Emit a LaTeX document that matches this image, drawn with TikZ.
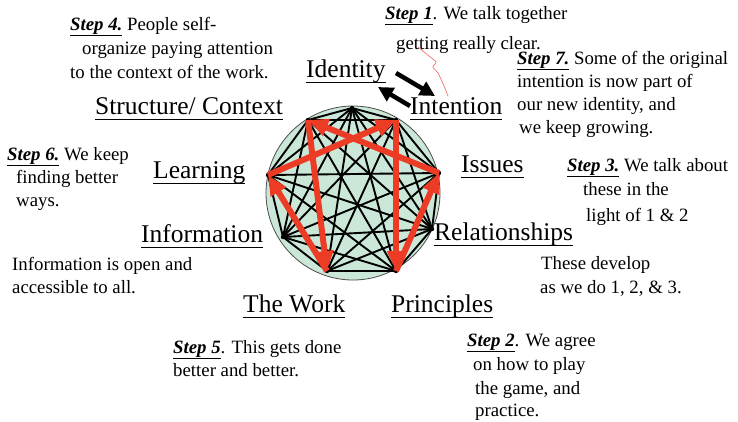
\documentclass[tikz,border=0pt]{standalone}
\usepackage{fontspec}
\setmainfont{Liberation Serif}
\usetikzlibrary{arrows.meta}
\definecolor{mint}{RGB}{202,231,216}
\definecolor{arrred}{RGB}{236,60,38}
\definecolor{thinred}{RGB}{240,120,105}
\newcommand\StepLbl[1]{\underline{\textbf{\textit{#1}}}}
\begin{document}
\begin{tikzpicture}[x=1pt,y=-1pt,
  lab/.style={anchor=base west,inner sep=0pt,font=\fontsize{25.5}{28}\selectfont},
  txt/.style={anchor=base west,inner sep=0pt,font=\fontsize{18.8}{21}\selectfont},
  edge/.style={line width=1.9pt,black},
  redarr/.style={line width=6pt,arrred,-{Triangle[length=20pt,width=17pt]}},
  blkarr/.style={line width=4.5pt,black,-{Triangle[length=15pt,width=15pt]}},
  uline/.style={line width=0.9pt,black}
]
\fill[white] (0,0) rectangle (738,421);
\useasboundingbox (0,0) rectangle (738,421);

% circle
\filldraw[fill=mint,draw=black!70,line width=0.8pt] (353,193) circle (87pt);

% vertices
\coordinate (v1) at (352,108);
\coordinate (v2) at (396,120);
\coordinate (v3) at (439,173);
\coordinate (v4) at (432,229);
\coordinate (v5) at (396,271);
\coordinate (v6) at (327,271);
\coordinate (v7) at (283,237);
\coordinate (v8) at (268,175);
\coordinate (v9) at (308,120);

% black web
\foreach \a in {1,...,8}{
  \pgfmathtruncatemacro{\s}{\a+1}
  \foreach \b in {\s,...,9}{\draw[edge] (v\a) -- (v\b);}
}
\foreach \a in {1,...,9}{\fill (v\a) circle (2.2pt);}

% red cycle
\draw[redarr] (v2) -- (v5);
\draw[redarr] (v5) -- (v3);
\draw[redarr] (v3) -- (v9);
\draw[redarr] (v9) -- (v6);
\draw[redarr] (v6) -- (v8);
\draw[redarr] (v8) -- (v2);

% labels
\node[lab] (lid) at (306,77) {Identity};
\node[lab] (lint) at (410,114) {Intention};
\node[lab] (lstr) at (95,114) {Structure/ Context};
\node[lab] (liss) at (461,172) {Issues};
\node[lab] (llea) at (153,178) {Learning};
\node[lab] (lrel) at (434,240) {Relationships};
\node[lab] (linf) at (141,242) {Information};
\node[lab] (lwor) at (243,312) {The Work};
\node[lab] (lpri) at (391,312) {Principles};
\foreach \n in {lid,lint,lstr,liss,llea,lrel,linf,lwor,lpri}{
  \draw[uline] ([yshift=-5pt]\n.base west) -- ([yshift=-5pt]\n.base east);
}

% black arrows between Identity and Intention
\coordinate (ba1s) at (396,73);
\coordinate (ba1e) at (435,96);
\coordinate (ba2s) at (410,106);
\coordinate (ba2e) at (378,87);
\draw[blkarr] (ba1s) -- (ba1e);
\draw[blkarr] (ba2s) -- (ba2e);

% thin red stroke
\draw[thinred,line width=0.7pt] plot[smooth] coordinates {(418,47) (429,56) (436,62) (433,67) (438,73) (444,86) (448,96)};

% step texts
\node[txt] (s1a) at (385,19) {\StepLbl{Step 1}. We talk together};
\node[txt] (s1b) at (396,49) {getting really clear.};

\node[txt] (s4a) at (70,30) {\StepLbl{Step 4.} People self-};
\node[txt] (s4b) at (82,54) {organize paying attention};
\node[txt] (s4c) at (70,78) {to the context of the work.};

\node[txt] (s7a) at (517,64) {\StepLbl{Step 7.} Some of the original};
\node[txt] (s7b) at (517,87) {intention is now part of};
\node[txt] (s7c) at (517,110) {our new identity, and};
\node[txt] (s7d) at (519,133) {we keep growing.};

\node[txt] (s6a) at (7,160) {\StepLbl{Step 6.} We keep};
\node[txt] (s6b) at (16,183) {finding better};
\node[txt] (s6c) at (16,206) {ways.};

\node[txt] (s3a) at (567,171) {\StepLbl{Step 3.} We talk about};
\node[txt] (s3b) at (583,195) {these in the};
\node[txt] (s3c) at (586,221) {light of 1 \& 2};

\node[txt] (r1) at (541,269) {These develop};
\node[txt] (r2) at (540,293) {as we do 1, 2, \& 3.};

\node[txt] (i1) at (12,270) {Information is open and};
\node[txt] (i2) at (12,293) {accessible to all.};

\node[txt] (s5a) at (173,353) {\StepLbl{Step 5}. This gets done};
\node[txt] (s5b) at (173,376) {better and better.};

\node[txt] (s2a) at (467,346) {\StepLbl{Step 2}. We agree};
\node[txt] (s2b) at (473,370) {on how to play};
\node[txt] (s2c) at (475,394) {the game, and};
\node[txt] (s2d) at (475,416) {practice.};
\end{tikzpicture}
\end{document}
